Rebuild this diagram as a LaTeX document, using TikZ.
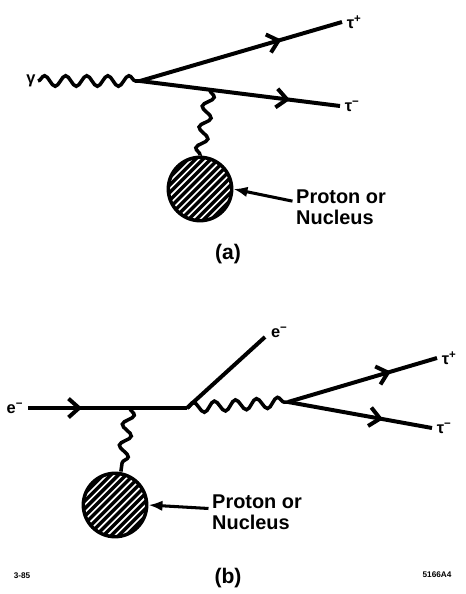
\documentclass[tikz,border=0pt]{standalone}
\usepackage{fontspec}
\setmainfont{Liberation Sans}
\usetikzlibrary{arrows.meta,positioning,decorations.pathmorphing,decorations.markings}

\begin{document}
\begin{tikzpicture}[
  x=0.03cm,y=-0.03cm,
  fermion/.style={line width=3.4pt,postaction={decorate},
    decoration={markings,mark=at position #1 with {\arrow{Straight Barb[length=9pt,width=16pt]}}}},
  plain/.style={line width=3.4pt},
  photon/.style={line width=3pt,decorate,decoration={snake,amplitude=4.5pt,segment length=18pt}},
  blob/.style={circle,draw,fill=black,line width=3pt,minimum size=1.9cm,inner sep=0pt,
    path picture={\foreach \k in {-9,...,9}{\draw[white,line width=1.4pt]
      ([xshift=\k*6.5pt-40pt,yshift=-40pt]path picture bounding box.center) -- ++(80pt,80pt);}}},
  pointer/.style={-{Latex[length=12pt,width=9pt]},line width=2.6pt},
  nucnote/.style={font=\bfseries\fontsize{17}{18}\selectfont,align=left,inner sep=0pt},
  tlbl/.style={font=\bfseries\fontsize{14}{16}\selectfont,inner sep=0pt},
  panel/.style={font=\bfseries\fontsize{18}{20}\selectfont,inner sep=0pt},
  figno/.style={font=\bfseries\fontsize{7}{8}\selectfont,inner sep=0pt}
]
\useasboundingbox (0,0) rectangle (465,594);

\coordinate (gA) at (38,81);
\coordinate (vA) at (140,81);
\coordinate (tpA) at (342,22);
\coordinate (tmA) at (340,106);
\coordinate (xA) at (210,90);
\node[blob] (nucA) at (200,189) {};
\node[tlbl,left=2pt of gA] (gamma) {γ};
\node[tlbl,right=4pt of tpA] (tauplusA) {τ\textsuperscript{+}};
\node[tlbl,right=4pt of tmA] (tauminusA) {τ\textsuperscript{−}};
\node[nucnote,anchor=west] (nlA) at (296,207) {Proton or\\Nucleus};
\node[panel] (capA) at (228,254) {(a)};
\draw[photon] (gA) -- (vA);
\draw[fermion=0.7] (vA) -- (tpA);
\draw[fermion=0.75] (vA) -- (tmA);
\draw[photon] (xA) -- (nucA.north);
\draw[pointer] ([shift={(-3pt,5pt)}]nlA.west) -- (nucA.east);

\coordinate (eIn) at (28,408);
\coordinate (xB) at (130,408);
\coordinate (vB) at (187,408);
\coordinate (eOut) at (265,337);
\coordinate (vC) at (288,402);
\coordinate (tpB) at (437,358);
\coordinate (tmB) at (432,428);
\node[blob] (nucB) at (115,505) {};
\node[tlbl,left=4pt of eIn] (einlbl) {e\textsuperscript{−}};
\node[tlbl,right=5pt of eOut,yshift=4pt] (eoutlbl) {e\textsuperscript{−}};
\node[tlbl,right=4pt of tpB] (tauplusB) {τ\textsuperscript{+}};
\node[tlbl,right=4pt of tmB] (tauminusB) {τ\textsuperscript{−}};
\node[nucnote,anchor=west] (nlB) at (212,512) {Proton or\\Nucleus};
\node[panel] (capB) at (228,578) {(b)};
\draw[fermion=0.53] (eIn) -- (xB);
\draw[plain] (xB) -- (vB);
\draw[plain] (vB) -- (eOut);
\draw[photon] (vB) -- (vC);
\draw[fermion=0.69] (vC) -- (tpB);
\draw[fermion=0.66] (vC) -- (tmB);
\draw[photon] (xB) -- ([xshift=5pt]nucB.north);
\draw[pointer] ([shift={(-3pt,3pt)}]nlB.west) -- (nucB.east);

\node[figno] (tagL) at (22,576) {3-85};
\node[figno] (tagR) at (437,575) {5166A4};
\end{tikzpicture}
\end{document}
